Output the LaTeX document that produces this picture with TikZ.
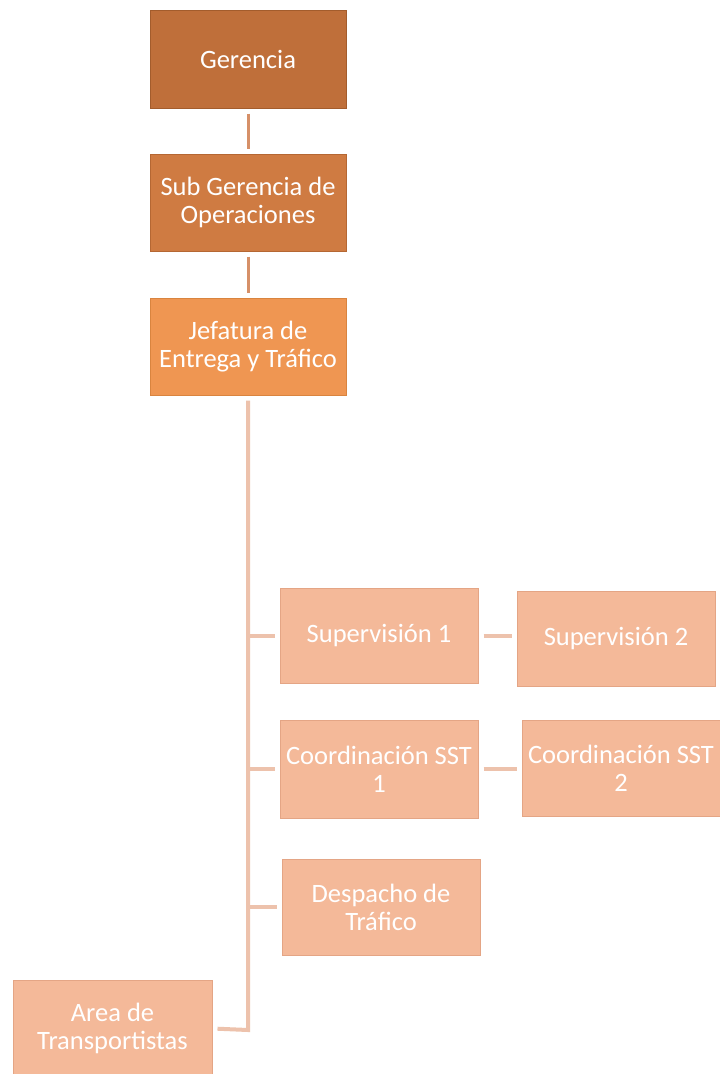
\documentclass[tikz,border=0pt]{standalone}
\usepackage{fontspec}
\setmainfont{Carlito}
\definecolor{cGer}{HTML}{BF6F3A}
\definecolor{cGerB}{HTML}{A35C2C}
\definecolor{cSub}{HTML}{CF7B42}
\definecolor{cSubB}{HTML}{B56733}
\definecolor{cJef}{HTML}{EF9652}
\definecolor{cJefB}{HTML}{D9843F}
\definecolor{cLt}{HTML}{F4B999}
\definecolor{cLtB}{HTML}{E4A585}
\definecolor{cLine}{HTML}{EDC2AC}
\definecolor{cLineD}{HTML}{D69068}
\tikzset{
  box/.style={rectangle, inner sep=0pt, align=center, text=white,
    font=\fontsize{26.5}{28}\selectfont, line width=1pt},
  conn/.style={draw=cLine, line width=4pt, line join=miter},
  connd/.style={draw=cLineD, line width=3pt},
}
\begin{document}
\begin{tikzpicture}[x=1pt,y=-1pt]
\clip (0,0) rectangle (720,1074);
\fill[white] (0,0) rectangle (720,1074);
\node[box, fill=cGer, draw=cGerB, minimum width=196pt, minimum height=98pt] (ger) at (248,59) {Gerencia};
\node[box, fill=cSub, draw=cSubB, minimum width=196pt, minimum height=97pt] (sub) at (248,202.5) {Sub Gerencia de\\Operaciones};
\node[box, fill=cJef, draw=cJefB, minimum width=196pt, minimum height=97pt] (jef) at (248,346.5) {Jefatura de\\Entrega y Tráfico};
\node[box, fill=cLt, draw=cLtB, minimum width=198pt, minimum height=95pt] (sup1) at (379,635.5) {Supervisión 1};
\node[box, fill=cLt, draw=cLtB, minimum width=198pt, minimum height=95pt] (sup2) at (616,638.5) {Supervisión 2};
\node[box, fill=cLt, draw=cLtB, minimum width=198pt, minimum height=98pt] (coo1) at (379,769) {Coordinación SST\\1};
\node[box, fill=cLt, draw=cLtB, minimum width=198pt, minimum height=96pt] (coo2) at (621,768) {Coordinación SST\\2};
\node[box, fill=cLt, draw=cLtB, minimum width=198pt, minimum height=96pt] (desp) at (381,907) {Despacho de\\Tráfico};
\node[box, fill=cLt, draw=cLtB, minimum width=199pt, minimum height=97pt] (area) at (112.5,1028.5) {Area de\\Transportistas};
\coordinate (tend) at (248,1030);
\draw[connd, shorten <=5pt, shorten >=5pt] (ger) -- (sub);
\draw[connd, shorten <=5pt, shorten >=5pt] (sub) -- (jef);
\draw[conn, shorten <=5pt, shorten >=5pt] (jef.south) -- (tend) -- (area.east);
\draw[conn, shorten >=5pt] (tend |- sup1.west) -- (sup1.west);
\draw[conn, shorten >=5pt] (tend |- coo1.west) -- (coo1.west);
\draw[conn, shorten >=5pt] (tend |- desp.west) -- (desp.west);
\draw[conn, shorten <=5pt, shorten >=5pt] (sup1.east) -- (sup2.west |- sup1.east);
\draw[conn, shorten <=5pt, shorten >=5pt] (coo1.east) -- (coo2.west |- coo1.east);
\end{tikzpicture}
\end{document}
